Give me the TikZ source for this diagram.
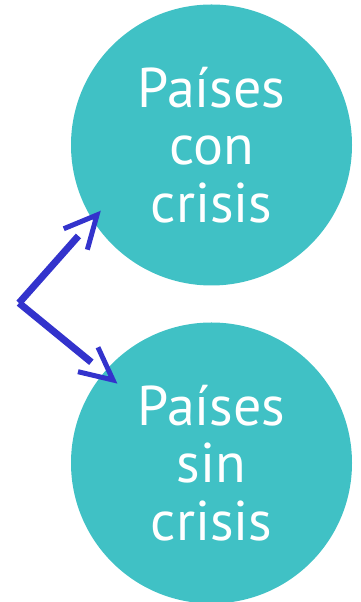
\documentclass[tikz,border=0pt]{standalone}
\usepackage{fontspec}
\setmainfont{PT Sans}
\usetikzlibrary{calc}
\definecolor{tealc}{RGB}{64,193,197}
\definecolor{arrowblue}{RGB}{51,51,204}
\tikzset{
  bubble/.style={circle, fill=tealc, draw=none, minimum size=281pt, inner sep=0pt},
  bubbletext/.style={text=white, align=center, font=\fontsize{56}{57.5}\selectfont},
  shaft/.style={draw=arrowblue, line width=7pt, shorten >=28pt},
  barb/.style={draw=arrowblue, line width=5pt, miter limit=10}
}
\begin{document}
\begin{tikzpicture}[x=1pt,y=1pt]
\useasboundingbox (0,0) rectangle (360,602);
\node[bubble] (top) at (211.5,457) {};
\node[bubble] (bot) at (211.5,139) {};
\node[bubbletext] (toptext) at (211.5,457) {Países\\con\\crisis};
\node[bubbletext] (bottext) at (211.5,139) {Países\\sin\\crisis};
\coordinate (v) at (19,299);
\coordinate (t1) at (97,387);
\coordinate (t2) at (113,222);
\draw[shaft] (v) -- (t1);
\draw[shaft] (v) -- (t2);
\draw[barb] ($(t1)!36pt!26:(v)$) -- (t1) -- ($(t1)!36pt!-26:(v)$);
\draw[barb] ($(t2)!36pt!26:(v)$) -- (t2) -- ($(t2)!36pt!-26:(v)$);
\end{tikzpicture}
\end{document}
